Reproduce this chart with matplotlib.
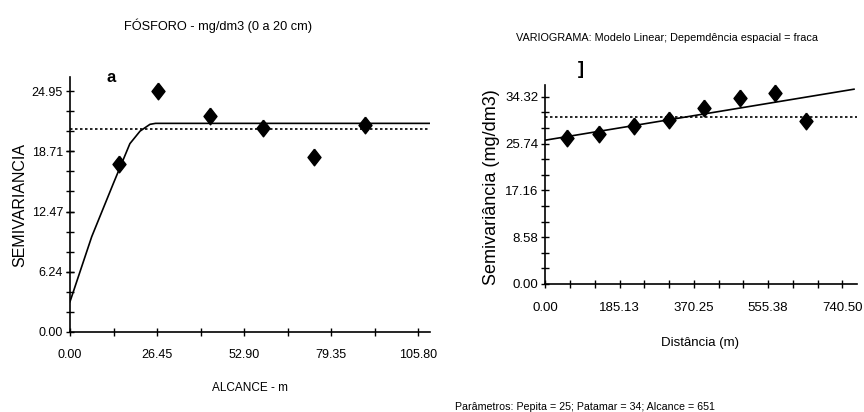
import matplotlib
matplotlib.use("Agg")
import matplotlib.pyplot as plt
from matplotlib.ticker import MultipleLocator, FixedLocator

SANS = ['Liberation Sans', 'DejaVu Sans']

# ---- Left panel data (Fósforo) ----
left_x = [15.0, 26.7, 42.6, 58.5, 74.0, 89.7]
left_y = [17.36, 24.98, 22.36, 21.08, 18.15, 21.46]
left_model_x = [0.0, 6.6, 13.2, 18.2, 21.3, 24.3, 26.0, 109.4]
left_model_y = [3.14, 9.87, 15.4, 19.5, 20.8, 21.5, 21.6, 21.6]
left_var = 20.98
left_xticks = [0.00, 26.45, 52.90, 79.35, 105.80]
left_yticks = [0.00, 6.24, 12.47, 18.71, 24.95]

# ---- Right panel data (Variograma linear) ----
right_x = [54.1, 134.8, 222.0, 309.5, 396.7, 486.5, 572.3, 650.4]
right_y = [26.69, 27.48, 29.00, 30.17, 32.37, 34.20, 35.10, 29.90]
right_model_x = [0.0, 769.5]
right_model_y = [26.38, 35.73]
right_var = 30.65
right_xticks = [0.00, 185.13, 370.25, 555.38, 740.50]
right_yticks = [0.00, 8.58, 17.16, 25.74, 34.32]

fig = plt.figure(figsize=(8.64, 4.12), dpi=100)
W, H = 864, 412

DIAMOND = [(0, 1), (0.78, 0), (0, -1), (-0.78, 0), (0, 1)]


def style_axes(ax, xticks, yticks, xmax, ymax, fs, xpad):
    for s in ['top', 'right']:
        ax.spines[s].set_visible(False)
    for s in ['left', 'bottom']:
        ax.spines[s].set_linewidth(1.2)
    ax.set_xlim(0, xmax)
    ax.set_ylim(0, ymax)
    ax.xaxis.set_major_locator(FixedLocator(xticks))
    ax.yaxis.set_major_locator(FixedLocator(yticks))
    ax.set_xticklabels(['%.2f' % v for v in xticks], family=SANS, fontsize=fs)
    ax.set_yticklabels(['%.2f' % v for v in yticks], family=SANS, fontsize=fs)
    ax.tick_params(which='both', direction='inout', length=6, width=1.0, pad=2)
    ax.tick_params(axis='x', pad=xpad)


def fx(px):
    return px / W


def fy(py):
    return 1 - py / H


# Left axes
axL = fig.add_axes([fx(70), fy(332), (430 - 70) / W, (332 - 77) / H])
style_axes(axL, left_xticks, left_yticks, 109.4, 26.4, 9, 9)
axL.xaxis.set_minor_locator(MultipleLocator(26.45 / 2))
axL.yaxis.set_minor_locator(MultipleLocator(24.95 / 12))
axL.plot(left_model_x, left_model_y, color='black', lw=1.2)
axL.axhline(left_var, color='black', lw=1.2, ls=(0, (1.5, 1.5)))
axL.plot(left_x, left_y, ls='none', marker=DIAMOND, ms=12, color='black',
         clip_on=False)

# Right axes
axR = fig.add_axes([fx(545.3), fy(284), (857 - 545.3) / W, (284 - 85) / H])
style_axes(axR, right_xticks, right_yticks, 777, 36.5, 9.5, 10)
axR.xaxis.set_minor_locator(MultipleLocator(185.125 / 3))
axR.yaxis.set_minor_locator(MultipleLocator(34.32 / 12))
axR.plot(right_model_x, right_model_y, color='black', lw=1.2)
axR.axhline(right_var, color='black', lw=1.2, ls=(0, (1.5, 1.5)))
axR.plot(right_x, right_y, ls='none', marker=DIAMOND, ms=12, color='black',
         clip_on=False)

# Axis labels placed like the reference
fig.text(fx(250), fy(388), 'ALCANCE - m', family=SANS, fontsize=8.5,
         ha='center', va='center')
fig.text(fx(20), fy(205), 'SEMIVARIANCIA', family=SANS, fontsize=11.5,
         rotation=90, ha='center', va='center')
fig.text(fx(700), fy(343), 'Distância (m)', family=SANS, fontsize=9.5,
         ha='center', va='center')
fig.text(fx(492), fy(187), 'Semivariância (mg/dm3)', family=SANS, fontsize=13,
         rotation=90, ha='center', va='center')

# Titles and annotations
fig.text(fx(218), fy(26), 'FÓSFORO - mg/dm3 (0 a 20 cm)', family=SANS,
         fontsize=9.2, ha='center', va='center')
fig.text(fx(667), fy(38), 'VARIOGRAMA: Modelo Linear; Depemdência espacial = fraca',
         family=SANS, fontsize=7.8, ha='center', va='center')
fig.text(fx(111), fy(77), 'a', family=SANS, fontsize=12, fontweight='bold',
         ha='center', va='center')
fig.text(fx(581), fy(70), ']', family=SANS, fontsize=13, fontweight='bold',
         ha='center', va='center')
fig.text(fx(455), fy(407), 'Parâmetros: Pepita = 25; Patamar = 34; Alcance = 651',
         family=SANS, fontsize=7.7, ha='left', va='center')

fig.savefig('out.png', dpi=100)
